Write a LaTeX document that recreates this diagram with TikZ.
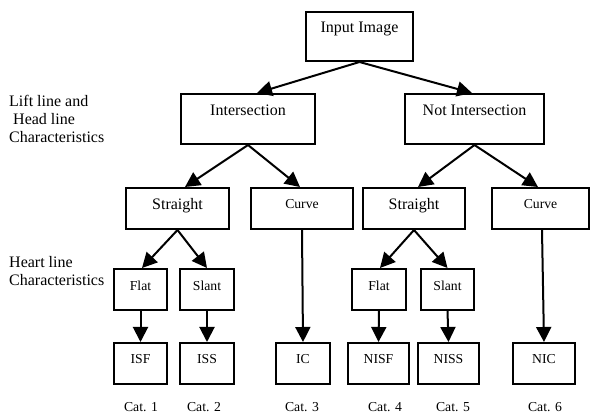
\documentclass[tikz,border=0pt]{standalone}
\usepackage{fontspec}
\setmainfont{Liberation Serif}
\usetikzlibrary{arrows.meta}
\tikzset{
  box/.style={draw, line width=2pt, rectangle, inner sep=0pt, minimum height=41pt, align=center},
  bigtop/.style={box, font=\fontsize{16}{18}\selectfont, minimum height=50pt, text height=8pt, text depth=15pt},
  bigmid/.style={box, font=\fontsize{16}{18}\selectfont, text height=12pt, text depth=10pt},
  smallmid/.style={box, font=\fontsize{13.7}{16}\selectfont, text height=9pt, text depth=9pt},
  smallflat/.style={box, font=\fontsize{13.7}{16}\selectfont, text height=10pt, text depth=7.4pt},
  smallleaf/.style={box, font=\fontsize{13.7}{16}\selectfont, text height=8pt, text depth=8pt},
  side/.style={font=\fontsize{16}{18}\selectfont, align=left, inner sep=0pt, anchor=west},
  cat/.style={font=\fontsize{13.7}{16}\selectfont, inner sep=0pt},
  arr/.style={line width=2pt, -{Triangle[length=15pt,width=15pt]}},
}
\begin{document}
\begin{tikzpicture}[x=1pt,y=-1pt]
\useasboundingbox (0,0) rectangle (590,414);
% boxes
\node[bigtop, minimum width=107pt, minimum height=49pt] (in) at (359.5,36.5) {Input Image};
\node[bigtop, minimum width=134pt] (int) at (248,119) {Intersection};
\node[bigtop, minimum width=139pt] (nint) at (474.5,119) {Not Intersection};
\node[bigmid, minimum width=103pt] (sl) at (177.5,208.5) {Straight};
\node[smallmid, minimum width=102pt] (cl) at (302,208.5) {Curve};
\node[bigmid, minimum width=102pt] (sr) at (414,208.5) {Straight};
\node[smallmid, minimum width=97pt] (cr) at (540.5,208.5) {Curve};
\node[smallflat, minimum width=53pt] (fl) at (140.5,289.5) {Flat};
\node[smallflat, minimum width=54pt] (sll) at (207,289.5) {Slant};
\node[smallflat, minimum width=54pt] (fr) at (379,289.5) {Flat};
\node[smallflat, minimum width=53pt] (sr2) at (447.5,289.5) {Slant};
\node[smallleaf, minimum width=53pt] (isf) at (140.5,363.5) {ISF};
\node[smallleaf, minimum width=54pt] (iss) at (207,363.5) {ISS};
\node[smallleaf, minimum width=54pt] (ic) at (303,363.5) {IC};
\node[smallleaf, minimum width=61pt] (nisf) at (378.5,363.5) {NISF};
\node[smallleaf, minimum width=61pt] (niss) at (448.5,363.5) {NISS};
\node[smallleaf, minimum width=62pt] (nic) at (544,363.5) {NIC};
% side labels
\node[side] (lab1) at (9,119) {Lift line and\\\hspace{4pt}Head line\\Characteristics};
\node[side] (lab2) at (9,271.5) {Heart line\\Characteristics};
% categories
\node[cat] (c1) at (141,407) {Cat. 1};
\node[cat] (c2) at (204,407) {Cat. 2};
\node[cat] (c3) at (302,407) {Cat. 3};
\node[cat] (c4) at (385,407) {Cat. 4};
\node[cat] (c5) at (453,407) {Cat. 5};
\node[cat] (c6) at (545,407) {Cat. 6};
% arrows
\draw[arr] (in.south) -- ([xshift=9pt]int.north);
\draw[arr] (in.south) -- ([xshift=-2.5pt]nint.north);
\draw[arr] (int.south) -- ([xshift=7.5pt]sl.north);
\draw[arr] (int.south) -- ([xshift=-2pt]cl.north);
\draw[arr] (nint.south) -- ([xshift=4pt]sr.north);
\draw[arr] (nint.south) -- ([xshift=-2.5pt]cr.north);
\draw[arr] (sl.south) -- ([xshift=1.5pt]fl.north);
\draw[arr] (sl.south) -- (sll.north);
\draw[arr] (sr.south) -- ([xshift=1pt]fr.north);
\draw[arr] (sr.south) -- (sr2.north);
\draw[arr] (fl.south) -- (isf.north);
\draw[arr] (sll.south) -- (iss.north);
\draw[arr] (fr.south) -- (nisf.north);
\draw[arr] (sr2.south) -- (niss.north);
\draw[arr] (cl.south) -- (ic.north);
\draw[arr] ([xshift=1.5pt]cr.south) -- (nic.north);
\end{tikzpicture}
\end{document}
